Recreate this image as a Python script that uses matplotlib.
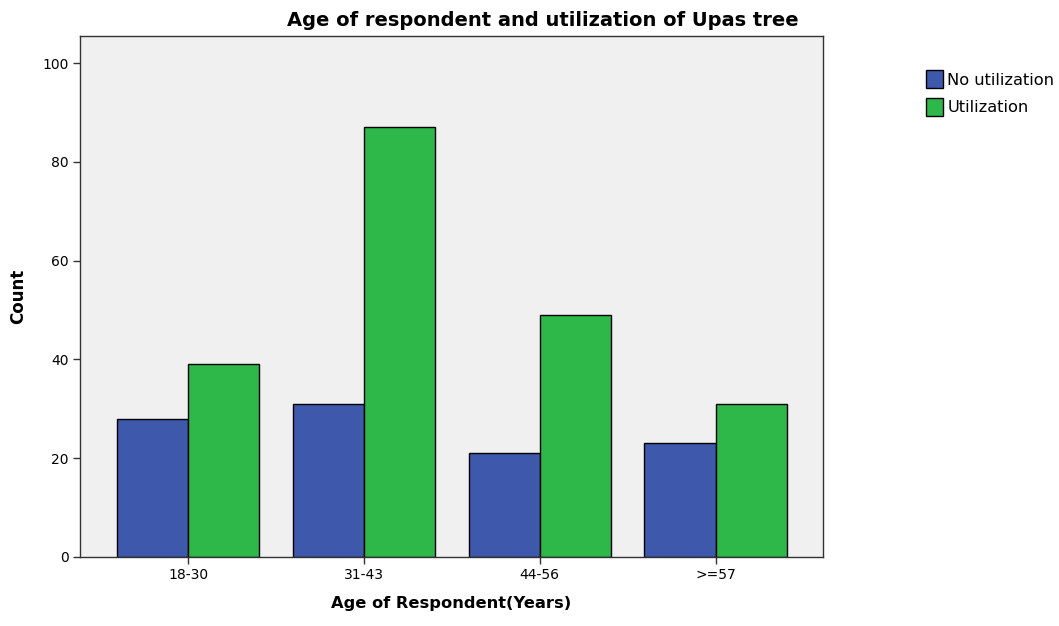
import numpy as np
import matplotlib.pyplot as plt
from matplotlib.patches import Patch

# Age groups and counts
age_groups = ['18-30', '31-43', '44-56', '>=57']
no_utilization = [28, 31, 21, 23]
utilization = [39, 87, 49, 31]

blue = '#3E58AC'
green = '#2EB84A'

fig = plt.figure(figsize=(10.59, 6.26), dpi=100)
ax = fig.add_axes([80 / 1059, 1 - 557 / 626, 743 / 1059, 521 / 626])
ax.set_facecolor('#F0F0F0')

x = np.arange(len(age_groups))
w = 0.405
ax.bar(x - w / 2, no_utilization, w, color=blue, edgecolor='black', linewidth=1)
ax.bar(x + w / 2, utilization, w, color=green, edgecolor='black', linewidth=1)

ax.set_xlim(-0.614, 3.61)
ax.set_ylim(0, 105.5)
ax.set_xticks(x)
ax.set_xticklabels(age_groups)
ax.set_yticks([0, 20, 40, 60, 80, 100])
ax.tick_params(axis='both', labelsize=10, length=5, width=1, color='#333333', pad=3)
for s in ax.spines.values():
    s.set_color('#333333')
    s.set_linewidth(1)

ax.set_xlabel('Age of Respondent(Years)', fontsize=11.7, fontweight='bold', labelpad=10)
fig.text(18 / 1059, 1 - 296 / 626, 'Count', fontsize=12, fontweight='bold',
         rotation=90, ha='center', va='center')
fig.text(543 / 1059, 1 - 20 / 626, 'Age of respondent and utilization of Upas tree',
         fontsize=14, fontweight='bold', ha='center', va='center')

handles = [Patch(facecolor=blue, edgecolor='black', label='No utilization'),
           Patch(facecolor=green, edgecolor='black', label='Utilization')]
fig.legend(handles=handles, loc='upper left', bbox_to_anchor=(919 / 1059, 1 - 64 / 626),
           frameon=False, fontsize=11.7, handlelength=1.1, handleheight=1.3,
           handletextpad=0.25, labelspacing=0.6, borderaxespad=0)

fig.savefig('out.png', dpi=100)
